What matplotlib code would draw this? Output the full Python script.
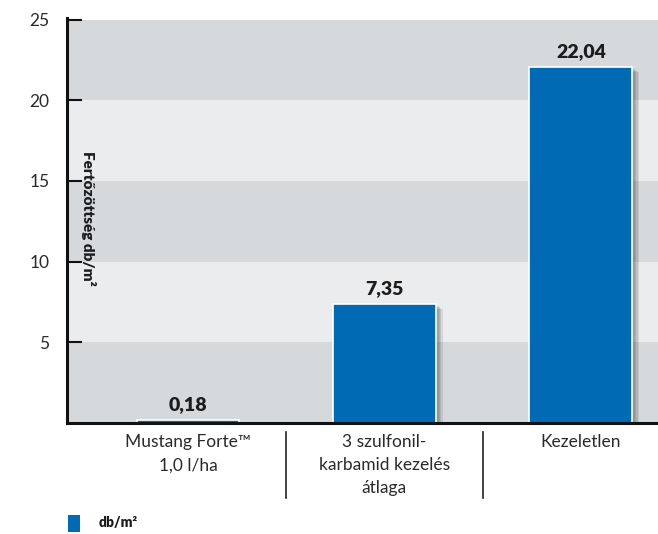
import matplotlib
matplotlib.use('Agg')
from matplotlib import pyplot as plt
from matplotlib import patheffects as pe
from matplotlib.patches import Rectangle
import matplotlib.transforms as mtransforms

# adatok
categories = ['Mustang Forte\u2122\n1,0 l/ha', '3 szulfonil-\nkarbamid kezelés\nátlaga', 'Kezeletlen']
values = [0.18, 7.35, 22.04]
value_labels = ['0,18', '7,35', '22,04']
y_ticks = [5, 10, 15, 20, 25]
series_name = 'db/m²'

plt.rcParams['font.family'] = ['Lato', 'DejaVu Sans']

W, H = 658, 534
fig = plt.figure(figsize=(W / 100, H / 100), dpi=100)
ax = fig.add_axes([0.1018, 0.2079, 0.898, 0.7584])

# háttér sávok
band_cols = ['#d6d9dc', '#ebecee']
for i in range(5):
    ax.axhspan(i * 5, (i + 1) * 5, color=band_cols[i % 2], zorder=0, lw=0)

x = list(range(len(categories)))
bars = ax.bar(x, values, width=0.524, color='#006bb5', edgecolor='white', linewidth=1.2, zorder=3)
# puha árnyék
shadow = [pe.SimplePatchShadow(offset=(o, -o * 0.7), shadow_rgbFace='#000000', alpha=0.09) for o in (5, 4, 3, 2)]
for b in bars:
    b.set_path_effects(shadow + [pe.Normal()])

for xi, v, lab in zip(x, values, value_labels):
    ax.annotate(lab, (xi, v), xytext=(0, 5), textcoords='offset points', ha='center', va='bottom',
                fontsize=14, fontweight='heavy', color='#1c1c1c', zorder=4)

ax.set_xlim(-0.616, 2.392)
ax.set_ylim(0, 25.1)
ax.set_yticks(y_ticks)
ax.set_yticklabels([str(t) for t in y_ticks], fontsize=12.5, color='#2a2a2a')
ax.tick_params(axis='y', direction='in', length=11, width=1.5, color='#111111', pad=12.5)
ax.set_xticks(x)
ax.set_xticklabels(categories, fontsize=12.5, color='#2a2a2a', linespacing=1.55)
ax.tick_params(axis='x', length=0, pad=8)

for s in ['top', 'right']:
    ax.spines[s].set_visible(False)
for s in ['left', 'bottom']:
    ax.spines[s].set_linewidth(2.2)
    ax.spines[s].set_color('#111111')
    ax.spines[s].set_zorder(5)

# elválasztók a kategóriák között
trans = mtransforms.blended_transform_factory(ax.transData, ax.transAxes)
for sx in [0.5, 1.5]:
    ax.plot([sx, sx], [-0.022, -0.185], transform=trans, color='#222222', lw=1.2, clip_on=False)

ax.text(-0.505, 0.504, 'Fertőzöttség db/m²', transform=trans, rotation=-90, ha='center', va='center',
        fontsize=11, fontweight='heavy', color='#1c1c1c', zorder=4)

# jelmagyarázat
fig.patches.append(Rectangle((68 / W, 1 - 532 / H), 12 / W, 17 / H, transform=fig.transFigure,
                             facecolor='#006bb5', edgecolor='none'))
fig.text(99 / W, 1 - 523 / H, series_name, ha='left', va='center', fontsize=10,
         fontweight='heavy', color='#1c1c1c')

fig.savefig('out.png', dpi=100)
